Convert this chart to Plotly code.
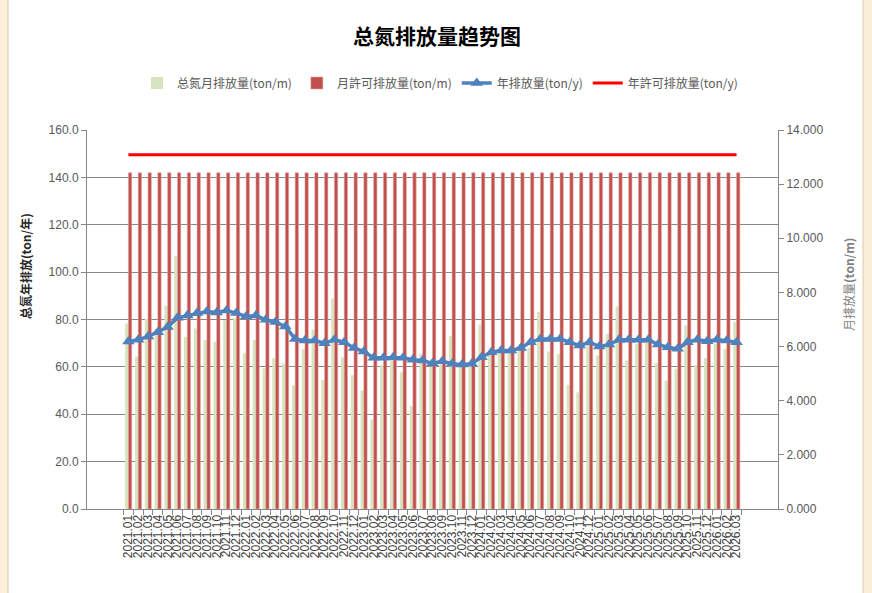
import plotly.graph_objects as go

# months 2021.01 .. 2026.03
months = [f"{y}.{m:02d}" for y in range(2021, 2027) for m in range(1, 13)][:63]

# 总氮月排放量 (ton/m), right axis
monthly_tn = [6.85, 5.63, 7.02, 6.65, 7.51, 9.35, 6.36, 6.67, 6.24, 6.18,
              6.97, 7.04, 5.75, 6.24, 5.20, 5.57, 5.38, 4.57, 5.91, 6.63,
              4.76, 7.78, 5.60, 4.94, 4.37, 3.31, 5.31, 5.60, 5.05, 3.80,
              5.74, 5.25, 5.34, 6.38, 5.38, 5.34, 6.81, 5.69, 5.78, 5.78,
              5.92, 5.95, 7.28, 5.82, 5.73, 4.59, 4.31, 6.13, 5.67, 6.47,
              7.48, 5.49, 6.10, 6.21, 5.38, 4.74, 5.18, 6.78, 5.32, 5.58,
              6.10, 5.92, 6.91]

# 月許可排放量 (ton/m), right axis
monthly_permit = [12.42] * 63

# 年排放量 (ton/y), left axis
yearly_tn = [70.7, 71.5, 72.8, 74.6, 76.8, 80.7, 81.7, 82.7, 83.4, 83.0,
             83.8, 82.7, 81.3, 81.7, 79.9, 78.9, 77.0, 71.8, 71.1, 71.1,
             70.0, 71.4, 70.4, 68.0, 66.5, 63.8, 63.8, 64.1, 63.8, 63.0,
             62.7, 61.5, 62.4, 61.3, 61.0, 61.3, 64.1, 66.2, 66.9, 66.9,
             68.0, 70.4, 71.8, 71.8, 71.8, 70.4, 69.0, 70.4, 68.6, 69.4,
             71.5, 71.5, 71.4, 71.5, 69.4, 68.3, 67.6, 70.4, 71.5, 70.8,
             71.5, 71.1, 70.4]

# 年許可排放量 (ton/y), left axis
yearly_permit = [149.5] * 63

CJK = "Noto Sans CJK SC"
GRAY = "#595959"
AXIS = "#868686"

fig = go.Figure()

fig.add_trace(go.Bar(
    x=months, y=monthly_tn, name="总氮月排放量(ton/m)",
    marker=dict(color="#D7E4BD", line=dict(width=0)),
    yaxis="y",
))
fig.add_trace(go.Bar(
    x=months, y=monthly_permit, name="月許可排放量(ton/m)",
    marker=dict(color="#C0504D", line=dict(width=0.6, color="#E3A3A1")),
    yaxis="y",
))
fig.add_trace(go.Scatter(
    x=months, y=yearly_tn, name="年排放量(ton/y)",
    mode="lines+markers",
    line=dict(color="#4F81BD", width=3.5),
    marker=dict(symbol="triangle-up", size=11, color="#4F81BD"),
    yaxis="y2",
))
fig.add_trace(go.Scatter(
    x=months, y=yearly_permit, name="年許可排放量(ton/y)",
    mode="lines",
    line=dict(color="#FF0000", width=3),
    yaxis="y2",
))

L, R, T, B = 87, 94, 130, 84
PW = 872 - L - R

fig.update_layout(
    width=872, height=593,
    margin=dict(l=L, r=R, t=T, b=B),
    paper_bgcolor="#FCEFD9",
    plot_bgcolor="white",
    barmode="group",
    bargap=0.33,
    bargroupgap=0,
    font=dict(family=CJK, size=12, color=GRAY),
    title=dict(
        text="<b>总氮排放量趋势图</b>",
        x=(437 - L) / PW, xref="paper", xanchor="center",
        y=1 - 37 / 593, yanchor="middle",
        font=dict(family=CJK, size=21, color="#000000"),
    ),
    legend=dict(
        orientation="h", x=(440 - L) / PW, xanchor="center",
        y=(509 - 83) / 379, yanchor="middle",
        font=dict(family=CJK, size=12, color=GRAY),
        bgcolor="rgba(0,0,0,0)",
        itemwidth=30,
    ),
    xaxis=dict(
        type="category",
        tickmode="linear", tick0=0, dtick=1,
        tickangle=-90,
        ticks="outside", tickson="boundaries", ticklen=5,
        tickcolor=AXIS,
        showline=True, linecolor=AXIS, linewidth=1,
        tickfont=dict(family="Liberation Sans", size=12, color="#404040"),
        showgrid=False,
    ),
    yaxis=dict(
        side="right",
        range=[0, 14], dtick=2, tickformat=".3f",
        showgrid=False, zeroline=False,
        ticks="outside", ticklen=5, tickcolor=AXIS,
        showline=True, linecolor=AXIS, linewidth=1,
        tickfont=dict(family="Liberation Sans", size=12, color=GRAY),
    ),
    yaxis2=dict(
        overlaying="y", side="left",
        range=[0, 160], dtick=20, tickformat=".1f",
        showgrid=True, gridcolor=AXIS, gridwidth=1,
        zeroline=False,
        ticks="outside", ticklen=5, tickcolor=AXIS,
        showline=True, linecolor=AXIS, linewidth=1,
        tickfont=dict(family="Liberation Sans", size=12, color=GRAY),
    ),
    shapes=[dict(
        type="rect", xref="paper", yref="paper", layer="below",
        x0=(8 - L) / PW, x1=(863 - L) / PW,
        y0=-B / 379 - 0.01, y1=1 + T / 379 + 0.01,
        fillcolor="white", line=dict(color="#D9C9AE", width=1),
    )],
    annotations=[
        dict(
            text="<b>总氮年排放(ton/年)</b>", textangle=-90,
            xref="paper", yref="paper",
            x=(25 - L) / PW, y=(509 - 266) / 379,
            xanchor="center", yanchor="middle", showarrow=False,
            font=dict(family=CJK, size=12, color="#262626"),
        ),
        dict(
            text="月排放量<b>(ton/m)</b>", textangle=-90,
            xref="paper", yref="paper",
            x=(848 - L) / PW, y=(509 - 285) / 379,
            xanchor="center", yanchor="middle", showarrow=False,
            font=dict(family=CJK, size=12, color="#7F7F7F"),
        ),
    ],
)

fig.write_html("out.html", config={"displayModeBar": False},
               post_script="document.body.style.margin='0';")
